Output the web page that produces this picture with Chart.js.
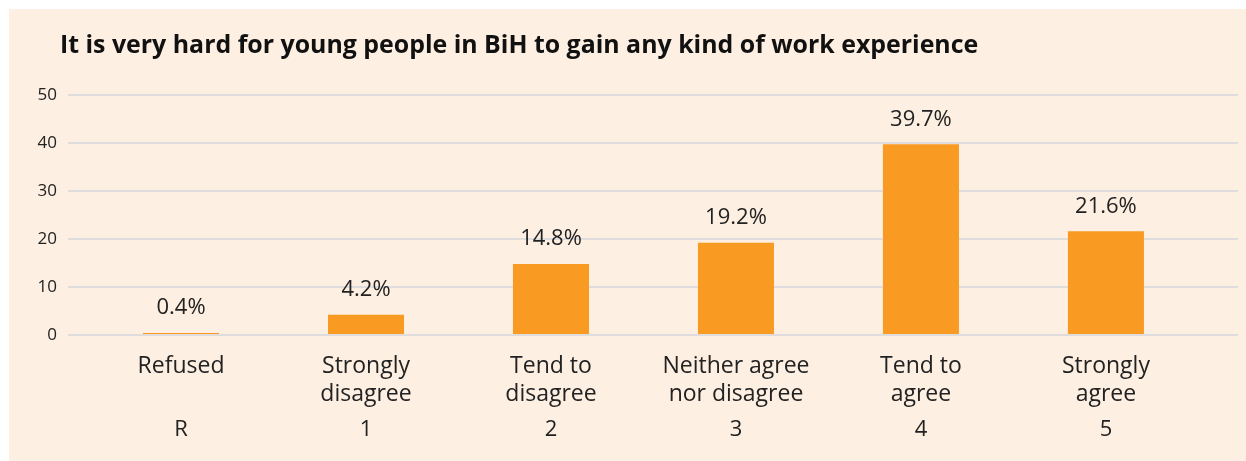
<!DOCTYPE html>
<html>
<head>
<meta charset="utf-8">
<script src="https://cdn.jsdelivr.net/npm/chart.js@4/dist/chart.umd.min.js"></script>
<style>
  html, body { margin: 0; padding: 0; background: #ffffff; }
  #panel { position: absolute; left: 9px; top: 9px; width: 1237px; height: 452px; background: #FDEFE1; }
  canvas { display: block; }
</style>
</head>
<body>
<div id="panel"><canvas id="c" width="1237" height="452"></canvas></div>
<script>
const titleText = "It is very hard for young people in BiH to gain any kind of work experience";
const categories = [["Refused"], ["Strongly", "disagree"], ["Tend to", "disagree"], ["Neither agree", "nor disagree"], ["Tend to", "agree"], ["Strongly", "agree"]];
const codes = ["R", "1", "2", "3", "4", "5"];
const values = [0.4, 4.2, 14.8, 19.2, 39.7, 21.6];
const yTicks = [0, 10, 20, 30, 40, 50];

const FONT = "'Open Sans', 'Noto Sans', sans-serif";
const xMin = -0.611, xMax = 5.714;
const Y_FONT_SIZE = 17;

// widest y tick label, used to place right-aligned (mirrored) tick labels left of the plot
const mctx = document.createElement('canvas').getContext('2d');
mctx.font = Y_FONT_SIZE + "px " + FONT;
const yWidest = Math.max(...yTicks.map(v => mctx.measureText(String(v)).width));

const valueLabels = {
  id: 'valueLabels',
  afterDatasetsDraw(chart) {
    const ctx = chart.ctx;
    const meta = chart.getDatasetMeta(0);
    ctx.save();
    ctx.font = "22px " + FONT;
    ctx.fillStyle = "#222222";
    ctx.textAlign = "center";
    ctx.textBaseline = "middle";
    meta.data.forEach((bar, i) => {
      ctx.fillText(values[i].toFixed(1) + "%", bar.x, bar.y - 25);
    });
    ctx.restore();
  }
};

new Chart(document.getElementById('c'), {
  type: 'bar',
  data: {
    datasets: [{
      data: values.map((v, i) => ({ x: i, y: v })),
      backgroundColor: '#F99A22',
      borderWidth: 0,
      categoryPercentage: 1,
      barPercentage: 0.411
    }]
  },
  options: {
    responsive: false,
    animation: false,
    events: [],
    layout: { padding: { left: 51, right: 8, top: 0, bottom: 10 } },
    plugins: {
      legend: { display: false },
      tooltip: { enabled: false },
      title: {
        display: true,
        text: titleText,
        align: 'start',
        color: '#111111',
        font: { family: FONT, size: 24.9, weight: 'bold', lineHeight: 1.2 },
        padding: { top: 22, bottom: 34 }
      }
    },
    scales: {
      x: {
        type: 'linear',
        offset: false,
        min: xMin, max: xMax,
        position: 'bottom',
        grid: { display: false, drawTicks: false },
        border: { display: false },
        afterBuildTicks: (axis) => { axis.ticks = codes.map((_, i) => ({ value: i })); },
        afterFit: (axis) => { axis.height = 74; },
        ticks: {
          autoSkip: false, maxRotation: 0, minRotation: 0,
          color: '#222222',
          padding: 16.7,
          font: { family: FONT, size: 23, lineHeight: 28.6 / 23 },
          callback: (v) => categories[v]
        }
      },
      x2: {
        type: 'linear',
        offset: false,
        min: xMin, max: xMax,
        position: 'bottom',
        grid: { display: false, drawTicks: false },
        border: { display: false },
        afterBuildTicks: (axis) => { axis.ticks = codes.map((_, i) => ({ value: i })); },
        ticks: {
          autoSkip: false, maxRotation: 0, minRotation: 0,
          color: '#222222',
          padding: 6.7,
          font: { family: FONT, size: 22, lineHeight: 1.3 },
          callback: (v) => codes[v]
        }
      },
      y: {
        min: 0, max: 50,
        afterBuildTicks: (axis) => { axis.ticks = yTicks.map(v => ({ value: v })); },
        afterFit: (axis) => { axis.width = 8; },
        grid: { color: '#DEDCDC', lineWidth: 2, drawTicks: false },
        border: { display: false },
        ticks: {
          mirror: true,
          crossAlign: 'far',
          color: '#222222',
          padding: -(11 + yWidest),
          font: { family: FONT, size: Y_FONT_SIZE }
        }
      }
    }
  },
  plugins: [valueLabels]
});
</script>
</body>
</html>
